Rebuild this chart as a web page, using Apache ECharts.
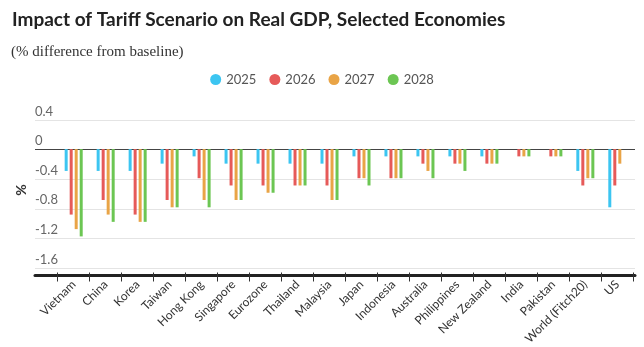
<!DOCTYPE html>
<html><head><meta charset="utf-8">
<script src="https://cdn.jsdelivr.net/npm/echarts@6/dist/echarts.min.js"></script>
<style>html,body{margin:0;padding:0;background:#fff}#c{width:644px;height:347px}</style>
</head><body><div id="c"></div>
<script>
const categories = ['Vietnam','China','Korea','Taiwan','Hong Kong','Singapore','Eurozone','Thailand','Malaysia','Japan','Indonesia','Australia','Philippines','New Zealand','India','Pakistan','World (Fitch20)','US'];
const years = ['2025','2026','2027','2028'];
const v2025 = [-0.3,-0.3,-0.3,-0.2,-0.1,-0.2,-0.2,-0.2,-0.2,-0.1,-0.1,-0.1,-0.1,-0.1,0,0,-0.3,-0.8];
const v2026 = [-0.9,-0.7,-0.9,-0.7,-0.4,-0.5,-0.5,-0.5,-0.5,-0.4,-0.4,-0.2,-0.2,-0.2,-0.1,-0.1,-0.5,-0.5];
const v2027 = [-1.1,-0.9,-1.0,-0.8,-0.7,-0.7,-0.6,-0.5,-0.7,-0.4,-0.4,-0.3,-0.2,-0.2,-0.1,-0.1,-0.4,-0.2];
const v2028 = [-1.2,-1.0,-1.0,-0.8,-0.8,-0.7,-0.6,-0.5,-0.7,-0.5,-0.4,-0.4,-0.3,-0.2,-0.1,-0.1,-0.4,null];
const yTicks = [-1.6,-1.2,-0.8,-0.4,0,0.4];
const colors = ['#3CC5F1','#E65A59','#E9A446','#6CC653'];

const font = 'Lato, "Noto Sans", sans-serif';
const seriesValues = [v2025, v2026, v2027, v2028];
const chart = echarts.init(document.getElementById('c'), null, {renderer:'canvas'});
const option = {
  animation:false,
  color: colors,
  title:[
    {text:'Impact of Tariff Scenario on Real GDP, Selected Economies', left:7, top:5,
     textStyle:{fontFamily:font, fontSize:19, fontWeight:'bold', color:'#222'}},
    {text:'(% difference from baseline)', left:6, top:40,
     textStyle:{fontFamily:'"Liberation Serif", "Times New Roman", serif', fontSize:15, fontWeight:'normal', color:'#333'}}
  ],
  legend:{left:'center', top:68, icon:'circle', itemWidth:11, itemHeight:11, itemGap:13,
    textStyle:{fontFamily:font, fontSize:13, color:'#555'}, data: years},
  graphic:[{type:'text', x:21, y:190, rotation:Math.PI/2,
    style:{text:'%', align:'center', verticalAlign:'middle', fontFamily:font, fontSize:14, fontWeight:'bold', fill:'#333'}}],
  grid:[{left:35,right:9,top:120,bottom:79},{left:57.7,right:10.7,top:120,bottom:79}],
  xAxis:[
    {gridIndex:0, type:'category', data:[''], position:'bottom', offset:7,
     axisLine:{onZero:false, lineStyle:{color:'#222', width:3}}, axisTick:{show:false},
     axisLabel:{show:false}, splitLine:{show:false}},
    {gridIndex:1, type:'category', data:categories, position:'bottom', offset:7,
     axisLine:{show:false, onZero:false}, axisTick:{show:true, length:9, lineStyle:{color:'#333', width:1}},
     axisLabel:{rotate:45, margin:10, interval:0, fontFamily:font, fontSize:12, color:'#333'}}
  ],
  yAxis:[
    {gridIndex:0, type:'value', min:yTicks[0], max:yTicks[yTicks.length-1], interval:0.4,
     axisLine:{show:false}, axisTick:{show:false},
     axisLabel:{inside:true, margin:0, verticalAlign:'bottom', padding:[0,0,2,0],
       fontFamily:font, fontSize:13, color:'#666',
       formatter: v => String(Math.round(v*10)/10)},
     splitLine:{show:true, lineStyle:{width:1, color: yTicks.map(t => t===0 ? '#444' : '#e4e4e4')}}},
    {gridIndex:1, type:'value', min:yTicks[0], max:yTicks[yTicks.length-1], interval:0.4, show:false,
     splitLine:{show:false}}
  ],
  series: years.map((y,i) => ({
    name:y, type:'bar', xAxisIndex:1, yAxisIndex:1, data: seriesValues[i],
    barWidth:3, barGap:'67%', itemStyle:{color:colors[i]}, z:3
  }))
};
chart.setOption(option);
</script></body></html>
